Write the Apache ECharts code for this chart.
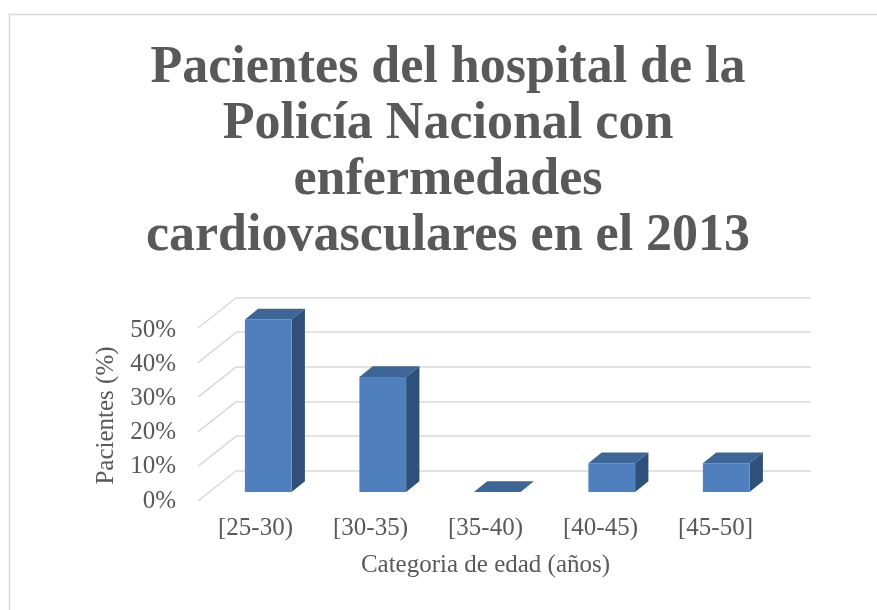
<!DOCTYPE html>
<html>
<head>
<meta charset="utf-8">
<script src="https://cdn.jsdelivr.net/npm/echarts@6/dist/echarts.min.js"></script>
<style>
html,body{margin:0;padding:0;background:#fff;}
#c{width:877px;height:610px;}
</style>
</head>
<body>
<div id="c"></div>
<script>
// ---- data ----
const categories = ['[25-30)', '[30-35)', '[35-40)', '[40-45)', '[45-50]'];
const values = [50, 33.33, 0, 8.33, 8.33];
const tickValues = [0, 10, 20, 30, 40, 50];
const titleText = 'Pacientes del hospital de la\nPolicía Nacional con\nenfermedades\ncardiovasculares en el 2013';
const yName = 'Pacientes (%)';
const xName = 'Categoria de edad (años)';

// ---- style / layout ----
const TXT = '#595959';
const GRIDC = '#d9d9d9';
const FRONT = '#4f80bd';
const TOPC = '#3c6698';
const SIDE = '#2e5079';
const FONT = "'Liberation Serif', serif";
const W = 877, H = 610;
// front plane (labels), bar front plane, back wall
const front = {left: 198, right: W - 773, top: 330, bottom: H - 501};
const barP = {left: 211, right: W - 783.5, top: 319.5, bottom: H - 492};
const back = {left: 236.5, right: W - 811, top: 297.5, bottom: H - 470.5};
const wallDX = -38.5, wallDY = 30.5;
const barDX = 13.3, barDY = -10.7, barFrac = 0.408;

const chart = echarts.init(document.getElementById('c'), null, {renderer: 'canvas'});

function renderBar(params, api) {
  const i = api.value(0), v = api.value(1);
  const t = api.coord([i, v]);
  const b = api.coord([i, 0]);
  const w = api.size([1, 0])[0] * barFrac;
  const x0 = t[0] - w / 2, x1 = t[0] + w / 2, yT = t[1], yB = b[1];
  return {
    type: 'group',
    children: [
      {type: 'polygon', shape: {points: [[x1, yB], [x1 + barDX, yB + barDY], [x1 + barDX, yT + barDY], [x1, yT]]}, style: {fill: SIDE}},
      {type: 'rect', shape: {x: x0, y: yT, width: w, height: Math.max(yB - yT, 0)}, style: {fill: FRONT}},
      {type: 'polygon', shape: {points: [[x0, yT], [x0 + barDX, yT + barDY], [x1 + barDX, yT + barDY], [x1, yT]]}, style: {fill: TOPC}}
    ]
  };
}

function renderWall(params, api) {
  const p = api.coord([0, api.value(1)]);
  const bx = params.coordSys.x;
  return {
    type: 'line',
    shape: {x1: bx, y1: p[1], x2: bx + wallDX, y2: p[1] + wallDY},
    style: {stroke: GRIDC, lineWidth: 1.5}
  };
}

const hiddenCat = {type: 'category', data: categories, show: false};
const hiddenVal = {type: 'value', min: 0, max: 50, interval: 10, show: false};

chart.setOption({
  backgroundColor: '#ffffff',
  animation: false,
  title: {
    text: titleText,
    left: 448, top: 41, textAlign: 'center', padding: 0,
    textStyle: {fontFamily: FONT, fontSize: 52, fontWeight: 'bold', color: TXT, lineHeight: 56}
  },
  graphic: [{
    type: 'rect', left: 7, top: 12, shape: {x: 0, y: 0, width: 900, height: 700},
    style: {fill: 'none', stroke: GRIDC, lineWidth: 1.5}, silent: true, z: -10
  }],
  grid: [
    Object.assign({}, front),
    Object.assign({}, barP),
    Object.assign({}, back)
  ],
  xAxis: [
    {
      type: 'category', data: categories, gridIndex: 0,
      axisLine: {show: false}, axisTick: {show: false},
      axisLabel: {margin: 15, color: TXT, fontFamily: FONT, fontSize: 25},
      name: xName, nameLocation: 'middle', nameGap: 52,
      nameTextStyle: {color: TXT, fontFamily: FONT, fontSize: 25}
    },
    Object.assign({gridIndex: 1}, hiddenCat),
    Object.assign({gridIndex: 2}, hiddenCat)
  ],
  yAxis: [
    {
      type: 'value', gridIndex: 0, min: 0, max: 50, interval: 10,
      axisLine: {show: false}, axisTick: {show: false}, splitLine: {show: false},
      axisLabel: {formatter: '{value}%', margin: 22, color: TXT, fontFamily: FONT, fontSize: 25},
      name: yName, nameLocation: 'middle', nameGap: 78,
      nameTextStyle: {color: TXT, fontFamily: FONT, fontSize: 25}
    },
    Object.assign({gridIndex: 1}, hiddenVal),
    {
      type: 'value', gridIndex: 2, min: 0, max: 50, interval: 10,
      axisLine: {show: false}, axisTick: {show: false}, axisLabel: {show: false},
      splitLine: {show: true, lineStyle: {color: GRIDC, width: 1.5}}
    }
  ],
  series: [
    {
      type: 'custom', xAxisIndex: 2, yAxisIndex: 2, z: 1, silent: true,
      data: tickValues.map(t => [0, t]),
      renderItem: renderWall
    },
    {
      type: 'custom', xAxisIndex: 1, yAxisIndex: 1, z: 3,
      data: values.map((v, i) => [i, v]),
      encode: {x: 0, y: 1},
      renderItem: renderBar
    }
  ]
});
</script>
</body>
</html>
